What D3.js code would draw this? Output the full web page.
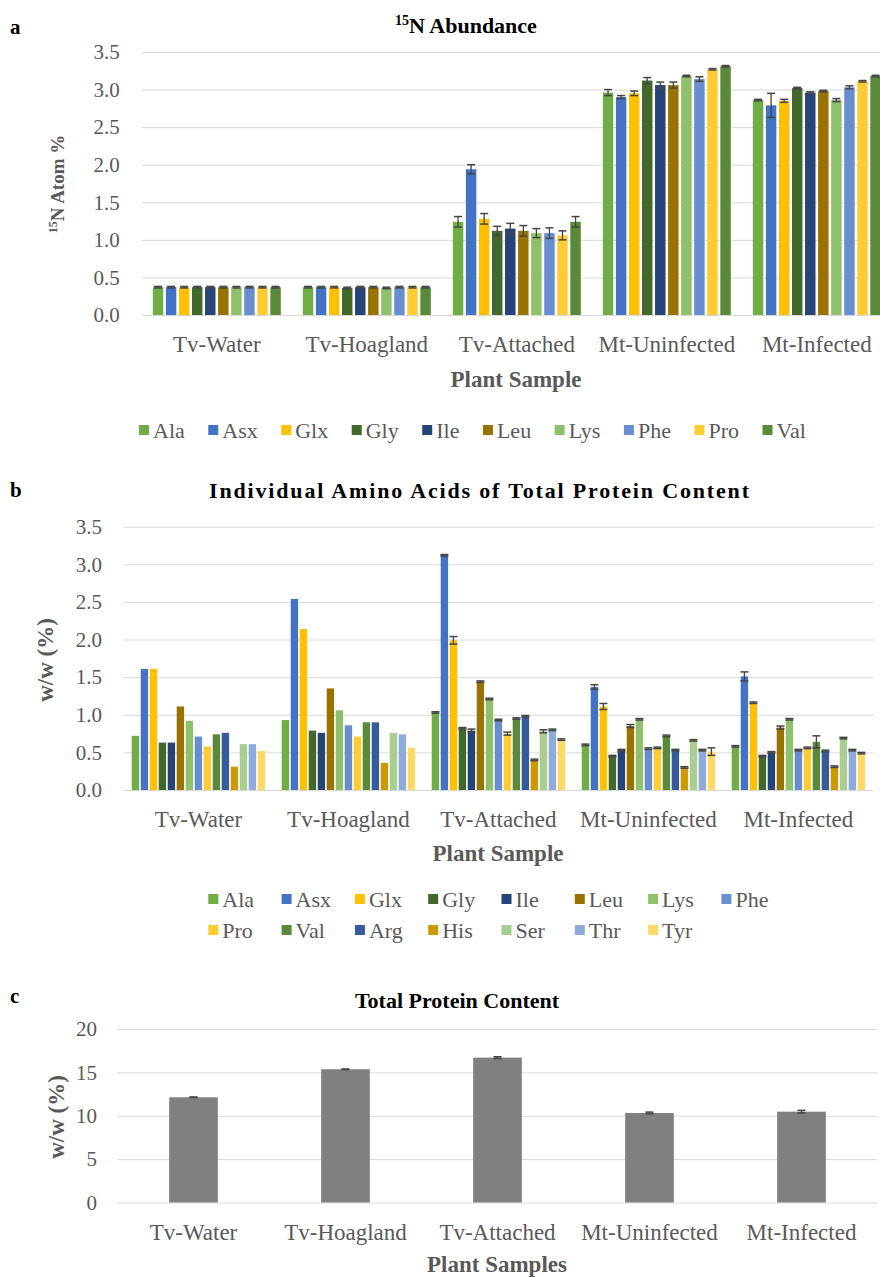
<!DOCTYPE html>
<html>
<head>
<meta charset="utf-8">
<script src="https://cdn.jsdelivr.net/npm/d3@7"></script>
<style>
  body { margin: 0; background: #fff; }
  svg { display: block; }
  svg text { font-family: "Liberation Serif", Tinos, "Times New Roman", "DejaVu Serif", serif !important; }
</style>
</head>
<body>
<svg id="chart" width="880" height="1277"></svg>
<script>
// ---------------- DATA ----------------
const samples = ["Tv-Water", "Tv-Hoagland", "Tv-Attached", "Mt-Uninfected", "Mt-Infected"];

const acidsA = ["Ala", "Asx", "Glx", "Gly", "Ile", "Leu", "Lys", "Phe", "Pro", "Val"];
const acidsB = ["Ala", "Asx", "Glx", "Gly", "Ile", "Leu", "Lys", "Phe", "Pro", "Val", "Arg", "His", "Ser", "Thr", "Tyr"];
const acidColors = ["#70AD47", "#4472C4", "#FFC000", "#43682B", "#264478", "#997300", "#8FC16C", "#698ED0", "#FFCD33", "#5A8A39", "#365B9D", "#CC9A00", "#A9CE91", "#8FAADC", "#FFD966"];

// Panel a: 15N atom % (one array per sample, order = acidsA)
const n15TvWater      = [0.37, 0.37, 0.37, 0.37, 0.37, 0.37, 0.37, 0.37, 0.37, 0.37];
const n15TvHoagland   = [0.37, 0.37, 0.37, 0.36, 0.37, 0.37, 0.36, 0.37, 0.37, 0.37];
const n15TvAttached   = [1.24, 1.94, 1.28, 1.12, 1.15, 1.12, 1.09, 1.09, 1.06, 1.24];
const n15MtUninfected = [2.96, 2.90, 2.95, 3.12, 3.06, 3.06, 3.18, 3.14, 3.27, 3.31];
const n15MtInfected   = [2.86, 2.79, 2.85, 3.02, 2.96, 2.98, 2.86, 3.03, 3.11, 3.18];
const n15ErrTvWater      = [0.01, 0.01, 0.01, 0.01, 0.01, 0.01, 0.01, 0.01, 0.01, 0.01];
const n15ErrTvHoagland   = [0.01, 0.01, 0.01, 0.01, 0.01, 0.01, 0.01, 0.01, 0.01, 0.01];
const n15ErrTvAttached   = [0.07, 0.06, 0.07, 0.06, 0.07, 0.07, 0.06, 0.07, 0.06, 0.07];
const n15ErrMtUninfected = [0.04, 0.02, 0.03, 0.04, 0.04, 0.04, 0.01, 0.03, 0.01, 0.01];
const n15ErrMtInfected   = [0.01, 0.16, 0.02, 0.01, 0.01, 0.01, 0.02, 0.02, 0.01, 0.01];

// Panel b: individual amino acids w/w (%) (order = acidsB)
const aaTvWater      = [0.72, 1.61, 1.61, 0.63, 0.63, 1.11, 0.92, 0.71, 0.58, 0.74, 0.76, 0.31, 0.61, 0.61, 0.52];
const aaTvHoagland   = [0.93, 2.54, 2.14, 0.79, 0.76, 1.35, 1.06, 0.86, 0.71, 0.90, 0.90, 0.36, 0.76, 0.74, 0.56];
const aaTvAttached   = [1.03, 3.12, 1.99, 0.82, 0.79, 1.44, 1.21, 0.93, 0.75, 0.95, 0.98, 0.40, 0.78, 0.80, 0.67];
const aaMtUninfected = [0.60, 1.37, 1.11, 0.45, 0.53, 0.85, 0.94, 0.55, 0.56, 0.72, 0.53, 0.30, 0.66, 0.53, 0.51];
const aaMtInfected   = [0.58, 1.51, 1.16, 0.45, 0.50, 0.83, 0.94, 0.53, 0.56, 0.64, 0.52, 0.31, 0.69, 0.53, 0.49];
const aaErrTvWater      = [0, 0, 0, 0, 0, 0, 0, 0, 0, 0, 0, 0, 0, 0, 0];
const aaErrTvHoagland   = [0, 0, 0, 0, 0, 0, 0, 0, 0, 0, 0, 0, 0, 0, 0];
const aaErrTvAttached   = [0.01, 0.01, 0.05, 0.01, 0.02, 0.01, 0.01, 0.01, 0.02, 0.01, 0.01, 0.01, 0.02, 0.01, 0.01];
const aaErrMtUninfected = [0.01, 0.03, 0.04, 0.01, 0.01, 0.02, 0.01, 0.01, 0.01, 0.01, 0.01, 0.01, 0.01, 0.01, 0.05];
const aaErrMtInfected   = [0.01, 0.06, 0.01, 0.01, 0.01, 0.02, 0.01, 0.01, 0.01, 0.08, 0.01, 0.01, 0.01, 0.01, 0.01];

// Panel c: total protein content w/w (%)
const proteinTotal = [12.13, 15.36, 16.70, 10.32, 10.47];
const proteinErr   = [0.03, 0.03, 0.10, 0.10, 0.15];

const ticksA = [0, 0.5, 1.0, 1.5, 2.0, 2.5, 3.0, 3.5];
const ticksB = [0, 0.5, 1.0, 1.5, 2.0, 2.5, 3.0, 3.5];
const ticksC = [0, 5, 10, 15, 20];

// ---------------- DRAW ----------------
const FONT = '"Liberation Serif", Tinos, "Times New Roman", "DejaVu Serif", serif';
const svg = d3.select("#chart").attr("font-family", FONT);
const GRID = "#D9D9D9", TXT = "#595959", ERR = "#454545";

function drawYAxis(y, ticks, left, right, pad, fmt) {
  const g = svg.append("g").attr("transform", `translate(${left},0)`)
    .call(d3.axisLeft(y).tickValues(ticks).tickSize(-(right - left)).tickPadding(pad).tickFormat(fmt));
  g.attr("font-family", FONT);
  g.select(".domain").remove();
  g.selectAll(".tick line").attr("stroke", GRID).attr("stroke-width", 1);
  g.selectAll(".tick text").attr("fill", TXT).style("font-size", "21px");
  return g;
}

function drawXLabels(x0, yBase, baseline, maxRight) {
  const g = svg.append("g").attr("transform", `translate(0,${yBase})`)
    .call(d3.axisBottom(x0).tickSize(0).tickPadding(0));
  g.attr("font-family", FONT);
  g.select(".domain").remove();
  g.selectAll(".tick text")
    .attr("fill", TXT).style("font-size", "23px")
    .attr("dy", 0).attr("y", baseline - yBase)
    .each(function () {
      const w = this.getComputedTextLength();
      const tr = d3.select(this.parentNode).attr("transform");
      const cx = +tr.match(/translate\(([-\d.]+)/)[1];
      if (cx + w / 2 > maxRight) d3.select(this).attr("x", maxRight - w / 2 - cx);
    });
}

function errorBars(group, cx, yv, yTopE, yBotE, cap) {
  group.append("line").attr("x1", cx).attr("x2", cx).attr("y1", yTopE).attr("y2", yBotE)
    .attr("stroke", ERR).attr("stroke-width", 1.3);
  [yTopE, yBotE].forEach(yy => group.append("line")
    .attr("x1", cx - cap / 2).attr("x2", cx + cap / 2).attr("y1", yy).attr("y2", yy)
    .attr("stroke", ERR).attr("stroke-width", 1.5));
}

function groupedPanel(cfg) {
  const y = d3.scaleLinear().domain(cfg.domain).range([cfg.y0, cfg.yTop]);
  const x0 = d3.scaleBand().domain(samples).range(cfg.xRange).paddingInner(cfg.pad).paddingOuter(cfg.pad / 2);
  const x1 = d3.scaleBand().domain(cfg.keys).range([0, x0.bandwidth()]).paddingInner(cfg.innerPad);
  drawYAxis(y, cfg.ticks, cfg.xRange[0], cfg.gridRight, cfg.tickPad, cfg.fmt);
  const bars = svg.append("g");
  samples.forEach((s, i) => {
    cfg.keys.forEach((k, j) => {
      const v = cfg.values[i][j];
      bars.append("rect")
        .attr("x", x0(s) + x1(k)).attr("width", x1.bandwidth())
        .attr("y", y(v)).attr("height", cfg.y0 - y(v))
        .attr("fill", cfg.colors[j]);
    });
  });
  const eg = svg.append("g");
  samples.forEach((s, i) => {
    cfg.keys.forEach((k, j) => {
      const v = cfg.values[i][j], e = cfg.errors[i][j];
      if (e > 0) errorBars(eg, x0(s) + x1(k) + x1.bandwidth() / 2, y(v), y(v + e), y(v - e), cfg.cap);
    });
  });
  drawXLabels(x0, cfg.y0, cfg.labelBaseline, cfg.labelMax);
  return { x0, y };
}

function panelLetter(txt, x, y) {
  svg.append("text").attr("x", x).attr("y", y).text(txt)
    .attr("fill", "#000").style("font-size", "21px").style("font-weight", "bold");
}
function boldText(txt, x, y, size, color) {
  return svg.append("text").attr("x", x).attr("y", y).attr("text-anchor", "middle")
    .attr("fill", color).style("font-size", size + "px").style("font-weight", "bold").text(txt);
}

// ===== Panel a =====
panelLetter("a", 10, 34);
const tA = svg.append("text").attr("x", 466).attr("y", 33).attr("text-anchor", "middle")
  .attr("fill", "#000").style("font-size", "22px").style("font-weight", "bold");
tA.append("tspan").text("15").style("font-size", "14px").attr("dy", -8);
tA.append("tspan").text("N Abundance").attr("dy", 8);

groupedPanel({
  values: [n15TvWater, n15TvHoagland, n15TvAttached, n15MtUninfected, n15MtInfected],
  errors: [n15ErrTvWater, n15ErrTvHoagland, n15ErrTvAttached, n15ErrMtUninfected, n15ErrMtInfected],
  keys: acidsA, colors: acidColors, domain: [0, 3.5], ticks: ticksA, fmt: d3.format(".1f"),
  y0: 315, yTop: 52, xRange: [141.8, 891.8], gridRight: 880, pad: 0.147, innerPad: 0.2,
  tickPad: 22, cap: 8, labelBaseline: 352, labelMax: 877
});
const yTitleA = svg.append("text").attr("transform", "translate(64,184) rotate(-90)")
  .attr("text-anchor", "middle").attr("fill", TXT).style("font-size", "19px").style("font-weight", "bold");
yTitleA.append("tspan").text("15").style("font-size", "12px").attr("dy", -7);
yTitleA.append("tspan").text("N Atom %").attr("dy", 7);
boldText("Plant Sample", 516, 387, 23, TXT);

// legend a
{
  const lg = svg.append("g");
  let xx = 139;
  acidsA.forEach((k, j) => {
    lg.append("rect").attr("x", xx).attr("y", 425).attr("width", 10).attr("height", 10).attr("fill", acidColors[j]);
    const t = lg.append("text").attr("x", xx + 14).attr("y", 430).attr("dy", "0.35em")
      .attr("fill", TXT).style("font-size", "22px").text(k);
    xx += 14 + t.node().getComputedTextLength() + 23.5;
  });
}

// ===== Panel b =====
panelLetter("b", 10, 497);
boldText("Individual Amino Acids of Total Protein Content", 479, 498, 22, "#000")
  .attr("textLength", 540).attr("lengthAdjust", "spacing");

groupedPanel({
  values: [aaTvWater, aaTvHoagland, aaTvAttached, aaMtUninfected, aaMtInfected],
  errors: [aaErrTvWater, aaErrTvHoagland, aaErrTvAttached, aaErrMtUninfected, aaErrMtInfected],
  keys: acidsB, colors: acidColors, domain: [0, 3.5], ticks: ticksB, fmt: d3.format(".1f"),
  y0: 790, yTop: 526.7, xRange: [123.4, 873.4], gridRight: 873.4, pad: 0.111, innerPad: 0.18,
  tickPad: 21.5, cap: 8, labelBaseline: 827, labelMax: 873
});
boldText("w/w (%)", 0, 0, 23, TXT).attr("transform", "translate(53,660) rotate(-90)");
boldText("Plant Sample", 498, 861, 23, TXT);

// legend b (two rows)
{
  const lg = svg.append("g");
  acidsB.forEach((k, j) => {
    const col = j % 8, row = Math.floor(j / 8);
    const xx = 208.3 + col * 73.3, yy = 899 + row * 31;
    lg.append("rect").attr("x", xx).attr("y", yy - 5).attr("width", 10).attr("height", 10).attr("fill", acidColors[j]);
    lg.append("text").attr("x", xx + 14).attr("y", yy).attr("dy", "0.35em")
      .attr("fill", TXT).style("font-size", "22px").text(k);
  });
}

// ===== Panel c =====
panelLetter("c", 10, 1003);
boldText("Total Protein Content", 457, 1008, 22, "#000");
{
  const y = d3.scaleLinear().domain([0, 20]).range([1202.5, 1029]);
  const x = d3.scaleBand().domain(samples).range([117.5, 877.5]).paddingInner(0.68).paddingOuter(0.34);
  drawYAxis(y, ticksC, 117.5, 877.5, 20.5, d3.format("d"));
  svg.append("g").selectAll("rect").data(samples).join("rect")
    .attr("x", d => x(d)).attr("width", x.bandwidth())
    .attr("y", (d, i) => y(proteinTotal[i])).attr("height", (d, i) => 1202.5 - y(proteinTotal[i]))
    .attr("fill", "#808080");
  const eg = svg.append("g");
  samples.forEach((s, i) => {
    const v = proteinTotal[i], e = proteinErr[i];
    errorBars(eg, x(s) + x.bandwidth() / 2, y(v), y(v + e), y(v - e), 8);
  });
  drawXLabels(x, 1202.5, 1240, 877);
  boldText("w/w (%)", 0, 0, 23, TXT).attr("transform", "translate(64,1117) rotate(-90)");
  boldText("Plant Samples", 497, 1272, 23, TXT);
}
</script>
</body>
</html>
